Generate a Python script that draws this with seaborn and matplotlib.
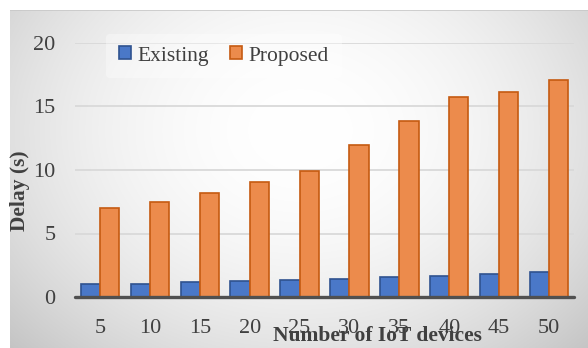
import numpy as np
import pandas as pd
import matplotlib
matplotlib.use("Agg")
import matplotlib.pyplot as plt
import seaborn as sns

devices = [5, 10, 15, 20, 25, 30, 35, 40, 45, 50]
existing = [1.0, 1.05, 1.18, 1.23, 1.33, 1.42, 1.55, 1.65, 1.79, 1.94]
proposed = [7.0, 7.5, 8.2, 9.05, 9.9, 12.0, 13.85, 15.75, 16.15, 17.1]
series = ["Existing", "Proposed"]
y_ticks = [0, 5, 10, 15, 20]

df = pd.DataFrame({
    "devices": [str(d) for d in devices] * 2,
    "delay": existing + proposed,
    "method": [series[0]] * len(devices) + [series[1]] * len(devices),
})

sns.set_theme(style="white")
plt.rcParams["font.family"] = ["Liberation Serif", "DejaVu Serif"]

W, H = 588, 348
fig = plt.figure(figsize=(W / 100, H / 100), dpi=100)
fig.patch.set_facecolor("white")

# radial grey background of the chart area
bg = fig.add_axes([10 / W, 0, (W - 10) / W, (H - 10) / H], zorder=-5)
yy, xx = np.mgrid[10:H, 10:W]
r2 = ((xx - 300) / 330.0) ** 2 + ((yy - 130) / 260.0) ** 2
val = np.clip(255 - 40 * r2, 0, 255) / 255.0
img = np.dstack([val, val, val])
bg.imshow(img, aspect="auto", extent=[0, 1, 0, 1], interpolation="bilinear")
bg.axhline(1, color="#c8c8c8", lw=1.2)
bg.set_axis_off()

ax = fig.add_axes([75 / W, (H - 297) / H, 499 / W, 254 / H])
ax.patch.set_alpha(0)

palette = {"Existing": "#4a78c8", "Proposed": "#ec8b4c"}
edges = {"Existing": "#2f528f", "Proposed": "#c55a11"}
sns.barplot(data=df, x="devices", y="delay", hue="method", palette=palette,
            width=0.77, gap=0, ax=ax, saturation=1, zorder=3, legend=True)

for container, name in zip(ax.containers, series):
    for bar in container:
        bar.set_edgecolor(edges[name])
        bar.set_linewidth(1.2)

ax.set_ylim(0, 20)
ax.set_xlim(-0.5, len(devices) - 0.5)
ax.set_yticks(y_ticks)
ax.set_yticklabels([str(t) for t in y_ticks])
for t in y_ticks[1:]:
    ax.axhline(t, color="#d9d9d9", lw=1.3, zorder=1)
ax.axhline(0, color="#505050", lw=2.4, zorder=4, clip_on=False)

for s in ax.spines.values():
    s.set_visible(False)
ax.tick_params(axis="both", length=0, labelsize=16, colors="#404040")
ax.tick_params(axis="y", pad=14)
ax.tick_params(axis="x", pad=16)

ax.set_xlabel("Number of IoT devices", fontsize=15.5, fontweight="bold", color="#404040")
ax.set_ylabel("Delay (s)", fontsize=15.5, fontweight="bold", color="#404040")
ax.xaxis.set_label_coords(0.607, -0.115)
ax.yaxis.set_label_coords(-0.091, 0.42)

handles, labels = ax.get_legend_handles_labels()
for h, name in zip(handles, labels):
    h.set_edgecolor(edges[name])
    h.set_linewidth(1.2)
leg = fig.legend(handles, labels, loc="center", bbox_to_anchor=(224 / W, 1 - 56 / H),
                 ncol=2, fontsize=15.5, handlelength=0.55, handleheight=0.55,
                 handletextpad=0.3, columnspacing=1.0, frameon=True,
                 borderpad=0.6)
leg.get_frame().set_facecolor("white")
leg.get_frame().set_alpha(0.35)
leg.get_frame().set_edgecolor("none")
for t in leg.get_texts():
    t.set_color("#404040")
ax.get_legend().remove()

fig.savefig("out.png", dpi=100)
